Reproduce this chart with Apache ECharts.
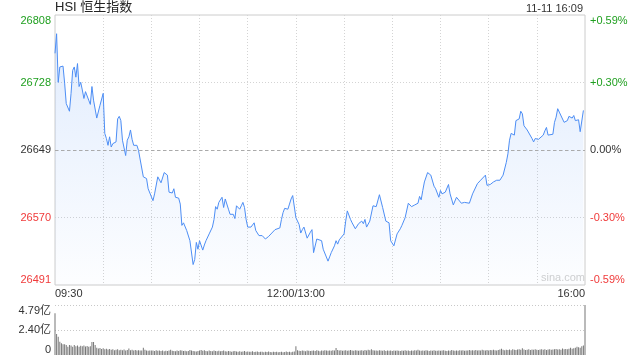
<!DOCTYPE html>
<html><head><meta charset="utf-8">
<script src="https://cdn.jsdelivr.net/npm/echarts@6/dist/echarts.min.js"></script>
<style>html,body{margin:0;padding:0;background:#fff}#c{width:640px;height:360px}</style>
</head><body><div id="c"></div>
<script>
const chartTitle = 'HSI 恒生指数';
const stamp = '11-11 16:09';
const watermark = 'sina.com';
const prevClose = 26649;
const priceTicks = [26491, 26570, 26649, 26728, 26808];
const pctTicks = ['-0.59%', '-0.30%', '0.00%', '+0.30%', '+0.59%'];
const volTicks = ['0', '2.40亿', '4.79亿'];
const volMax = 4.79;
const timeTicks = ['09:30', '12:00/13:00', '16:00'];

const times = [
'09:30','09:31','09:32','09:33','09:35','09:36','09:37','09:39','09:40','09:41','09:42','09:43','09:44','09:45','09:46','09:47','09:48','09:49','09:51','09:52','09:53','09:54','09:56','09:57','09:58','09:59',
'10:00','10:01','10:02','10:03','10:04','10:05','10:06','10:08','10:09','10:10','10:11','10:12','10:14','10:15','10:16','10:17','10:18','10:19','10:21','10:22','10:25','10:27','10:28','10:29',
'10:31','10:32','10:34','10:36','10:38','10:40','10:41','10:43','10:44','10:45','10:47','10:48','10:49','10:50','10:52','10:53','10:54','10:56','10:57','10:58','10:59',
'11:00','11:02','11:03','11:04','11:06','11:08','11:09','11:10','11:11','11:12','11:14','11:15','11:16','11:18','11:19','11:21','11:22','11:23','11:24','11:25','11:26','11:27','11:28','11:29',
'11:30','11:32','11:33','11:34','11:35','11:36','11:37','11:39','11:40','11:41','11:42','11:43','11:45','11:47','11:48','11:50','11:51','11:52','11:53','11:55','11:56','11:57','11:58',
'13:00','13:01','13:02','13:03','13:04','13:05','13:06','13:07','13:09','13:10','13:11','13:13','13:14','13:16','13:17','13:18','13:20','13:21','13:22','13:24','13:25','13:26','13:27','13:28',
'13:30','13:31','13:32','13:34','13:35','13:37','13:38','13:39','13:41','13:42','13:43','13:44','13:45','13:46','13:48','13:50','13:52','13:54','13:56','13:58','13:59',
'14:01','14:03','14:05','14:06','14:08','14:10','14:12','14:14','14:16','14:17','14:18','14:19','14:20','14:22','14:24','14:26','14:27','14:29',
'14:30','14:31','14:33','14:34','14:35','14:36','14:38','14:40','14:41','14:43','14:45','14:46','14:48','14:50','14:53','14:55','14:56','14:58','14:59',
'15:01','15:03','15:05','15:07','15:08','15:09','15:11','15:12','15:13','15:14','15:15','15:16','15:17','15:19','15:20','15:21','15:22','15:24','15:25','15:27','15:28','15:29',
'15:31','15:32','15:34','15:35','15:36','15:37','15:38','15:40','15:41','15:42','15:43','15:44','15:45','15:47','15:49','15:50','15:52','15:53','15:54','15:56','15:57','15:59'
];
const prices = [
26763,26786,26729,26747,26748,26728,26704,26695,26716,26743,26747,26735,26751,26724,26729,26720,26710,26718,26708,26703,26724,26708,26687,26688,26702,26702,
26716,26669,26663,26655,26665,26653,26657,26659,26686,26689,26684,26661,26643,26661,26665,26673,26662,26655,26655,26649,26618,26616,26604,26603,
26590,26598,26618,26611,26623,26620,26600,26599,26604,26594,26593,26586,26561,26564,26555,26557,26543,26515,26521,26541,26533,
26543,26532,26538,26543,26551,26559,26568,26583,26580,26588,26594,26582,26592,26580,26574,26574,26569,26584,26582,26580,26584,26588,26582,26568,
26559,26559,26561,26564,26555,26557,26549,26549,26548,26545,26544,26548,26552,26556,26558,26558,26568,26576,26581,26580,26586,26592,26596,
26570,26568,26562,26552,26556,26559,26558,26546,26553,26556,26529,26545,26546,26543,26533,26531,26519,26524,26529,26537,26543,26539,26544,26542,
26551,26566,26578,26568,26564,26557,26556,26563,26566,26563,26568,26559,26558,26566,26584,26583,26597,26582,26566,26564,26543,
26537,26551,26557,26561,26570,26587,26583,26585,26587,26595,26591,26602,26612,26623,26620,26607,26604,26594,
26602,26598,26600,26598,26609,26598,26585,26594,26592,26587,26588,26586,26587,26598,26610,26614,26614,26620,26608,
26609,26612,26614,26614,26612,26620,26635,26645,26661,26669,26671,26667,26684,26686,26695,26692,26678,26673,26672,26663,26659,26663,
26662,26661,26667,26672,26676,26667,26669,26668,26682,26688,26698,26694,26693,26682,26684,26689,26687,26690,26684,26685,26671,26696
];
// turnover per trading minute (亿), index 0 = 09:30 ... 330 = 16:00
const volumes = [
3.99,2.0,1.76,1.28,1.12,1.02,1.02,0.96,0.8,0.96,
0.9,0.8,0.96,0.85,0.9,0.8,0.88,0.84,0.92,0.82,
0.86,0.78,0.84,1.25,1.25,0.96,0.7,0.62,0.68,0.58,
0.64,0.55,0.6,0.52,0.58,0.5,0.54,0.46,0.5,0.54,
0.45,0.5,0.46,0.52,0.44,0.48,0.62,0.46,0.5,0.44,
0.48,0.42,0.46,0.42,0.44,0.7,0.5,0.44,0.4,0.42,
0.42,0.44,0.38,0.45,0.4,0.43,0.38,0.42,0.36,0.4,
0.38,0.44,0.5,0.4,0.38,0.36,0.43,0.38,0.45,0.42,
0.38,0.4,0.36,0.38,0.47,0.42,0.38,0.36,0.34,0.38,
0.43,0.47,0.4,0.45,0.38,0.36,0.42,0.38,0.35,0.44,
0.38,0.36,0.41,0.35,0.38,0.43,0.36,0.33,0.38,0.36,
0.32,0.35,0.38,0.33,0.3,0.36,0.32,0.34,0.38,0.3,
0.33,0.3,0.32,0.36,0.28,0.31,0.34,0.28,0.32,0.3,
0.27,0.31,0.29,0.33,0.28,0.26,0.3,0.28,0.32,0.27,
0.28,0.3,0.26,0.29,0.33,0.28,0.31,0.27,0.3,0.34,
0.85,0.45,0.4,0.38,0.42,0.4,0.37,0.43,0.4,0.38,
0.4,0.42,0.38,0.45,0.4,0.37,0.43,0.4,0.45,0.42,
0.4,0.44,0.4,0.46,0.42,0.68,0.48,0.42,0.45,0.4,
0.43,0.46,0.4,0.44,0.48,0.42,0.4,0.45,0.43,0.4,
0.42,0.45,0.4,0.48,0.44,0.5,0.46,0.55,0.45,0.42,
0.44,0.4,0.46,0.42,0.4,0.45,0.38,0.43,0.4,0.42,
0.38,0.42,0.4,0.44,0.4,0.38,0.42,0.4,0.45,0.4,
0.42,0.39,0.43,0.4,0.46,0.42,0.5,0.44,0.4,0.43,
0.4,0.45,0.42,0.38,0.43,0.4,0.46,0.41,0.4,0.44,
0.4,0.43,0.46,0.41,0.39,0.44,0.4,0.48,0.42,0.4,
0.43,0.4,0.45,0.42,0.46,0.4,0.44,0.42,0.48,0.43,
0.45,0.42,0.48,0.44,0.46,0.42,0.5,0.45,0.43,0.47,
0.44,0.48,0.45,0.5,0.46,0.44,0.48,0.52,0.6,0.5,
0.46,0.5,0.48,0.52,0.46,0.55,0.5,0.48,0.52,0.55,
0.5,0.65,0.52,0.48,0.5,0.54,0.48,0.52,0.5,0.55,
0.5,0.48,0.52,0.55,0.5,0.54,0.48,0.52,0.55,0.5,
0.52,0.55,0.58,0.52,0.56,0.5,0.62,0.55,0.58,0.54,
0.6,0.7,0.6,0.65,0.7,0.8,0.75,0.7,0.85,0.9,
4.79
];

function toMin(t) {
  const p = t.split(':').map(Number);
  const v = p[0] * 60 + p[1];
  return v <= 720 ? v - 570 : 150 + (v - 780);
}
const TOTAL = 330;
const FONT = 'Liberation Sans, Arial, Noto Sans CJK SC, sans-serif';
const GREEN = '#1f9f1f', RED = '#f03a3a', DARK = '#333';
const pMin = priceTicks[0], pMax = priceTicks[priceTicks.length - 1];
const pStep = (pMax - pMin) / (priceTicks.length - 1);
function cls(i) { return i > 2 ? 'g' : (i < 2 ? 'r' : 'n'); }
const richTxt = {
  g: { color: GREEN, fontSize: 11, fontFamily: FONT },
  n: { color: DARK, fontSize: 11, fontFamily: FONT },
  r: { color: RED, fontSize: 11, fontFamily: FONT }
};

const chart = echarts.init(document.getElementById('c'), null, { renderer: 'canvas' });
chart.setOption({
  animation: false,
  backgroundColor: '#fff',
  textStyle: { fontFamily: FONT },
  graphic: [
    { type: 'text', left: 55, top: 1, style: { text: chartTitle, fill: '#222', fontSize: 13, fontFamily: FONT } },
    { type: 'text', right: 57, top: 3, style: { text: stamp, fill: '#333', fontSize: 11, fontFamily: FONT } },
    { type: 'text', left: 541, top: 272, style: { text: watermark, fill: '#d0d0d0', fontSize: 11, fontFamily: FONT } }
  ],
  grid: [
    { left: 55, right: 55, top: 15, height: 270, show: true, borderColor: '#ccc', borderWidth: 1, backgroundColor: 'transparent' },
    { left: 55, right: 55, top: 305, height: 50 }
  ],
  xAxis: [
    { type: 'value', gridIndex: 0, min: 0, max: TOTAL, interval: 30,
      axisLine: { show: false }, axisTick: { show: false },
      axisLabel: { show: true, margin: 3, fontSize: 11, color: '#333', alignMinLabel: 'left', alignMaxLabel: 'right',
        formatter: function (v) { if (v === 0) return timeTicks[0]; if (v === 150) return timeTicks[1]; if (v === TOTAL) return timeTicks[2]; return ''; } },
      splitLine: { show: true, showMinLine: false, showMaxLine: false, lineStyle: { color: '#d4d4d4', type: [1, 2], width: 1 } } },
    { type: 'value', gridIndex: 1, min: 0, max: TOTAL, interval: 30,
      axisLine: { show: false }, axisTick: { show: false }, axisLabel: { show: false }, splitLine: { show: false } }
  ],
  yAxis: [
    { type: 'value', gridIndex: 0, min: pMin, max: pMax, interval: pStep, position: 'left',
      axisLine: { show: false }, axisTick: { show: false },
      axisLabel: { margin: 4, fontSize: 11, verticalAlignMinLabel: 'bottom', verticalAlignMaxLabel: 'top',
        formatter: function (v) { const i = Math.round((v - pMin) / pStep); return '{' + cls(i) + '|' + priceTicks[i] + '}'; },
        rich: richTxt },
      splitLine: { show: true, showMinLine: false, showMaxLine: false, lineStyle: { color: '#d4d4d4', type: [1, 2], width: 1 } } },
    { type: 'value', gridIndex: 0, min: pMin, max: pMax, interval: pStep, position: 'right',
      axisLine: { show: false }, axisTick: { show: false },
      axisLabel: { margin: 5, fontSize: 11, verticalAlignMinLabel: 'bottom', verticalAlignMaxLabel: 'top',
        formatter: function (v) { const i = Math.round((v - pMin) / pStep); return '{' + cls(i) + '|' + pctTicks[i] + '}'; },
        rich: richTxt },
      splitLine: { show: false } },
    { type: 'value', gridIndex: 1, min: 0, max: volMax, interval: volMax / 2,
      axisLine: { show: false }, axisTick: { show: false },
      axisLabel: { margin: 4, fontSize: 11, color: '#333', verticalAlignMinLabel: 'bottom', verticalAlignMaxLabel: 'top',
        formatter: function (v) { return volTicks[Math.round(v / (volMax / 2))]; } },
      splitLine: { show: true, showMinLine: false, lineStyle: { color: '#c8c8c8', type: [1, 2], width: 1 } } }
  ],
  series: [
    { type: 'line', xAxisIndex: 0, yAxisIndex: 0, symbol: 'none', smooth: false,
      data: times.map(function (t, i) { return [toMin(t), prices[i]]; }),
      lineStyle: { color: '#4d8ef5', width: 1 },
      areaStyle: { origin: 'start', color: new echarts.graphic.LinearGradient(0, 0, 0, 1, [
        { offset: 0, color: 'rgba(77,142,245,0.24)' }, { offset: 1, color: 'rgba(77,142,245,0.02)' }]) },
      markLine: { silent: true, symbol: 'none', label: { show: false },
        lineStyle: { color: '#aaa', type: [3, 3], width: 1 },
        data: [{ yAxis: prevClose }] } },
    { type: 'bar', xAxisIndex: 1, yAxisIndex: 2, barWidth: 1,
      data: volumes.map(function (v, i) { return [i, v]; }),
      itemStyle: { color: '#777' } }
  ]
});
</script></body></html>
